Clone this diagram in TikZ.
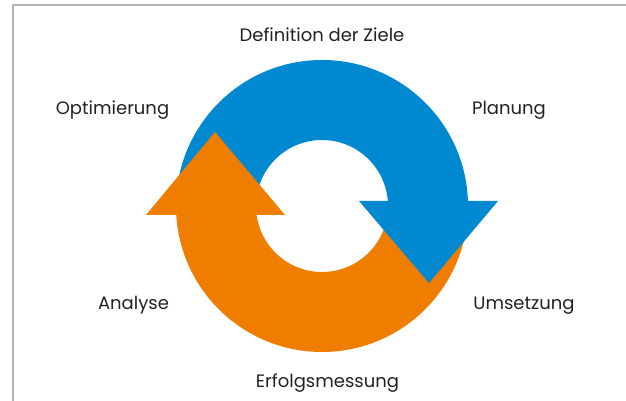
\documentclass[tikz,border=0pt]{standalone}
\usepackage{fontspec}
\setmainfont{Poppins}
\definecolor{cycblue}{HTML}{0089D0}
\definecolor{cycorange}{HTML}{EE7D00}
\definecolor{framegrey}{HTML}{B4B4B4}
\definecolor{labelgrey}{HTML}{222222}
\begin{document}
\begin{tikzpicture}[x=1pt,y=1pt,
  lbl/.style={anchor=base,inner sep=0pt,font=\fontsize{18}{21}\selectfont,text=labelgrey},
  frameline/.style={draw=framegrey,line width=1.2pt}]
\useasboundingbox (0,0) rectangle (626,401);
% frame
\coordinate (fbl) at (13,0);
\coordinate (ftl) at (13,396);
\coordinate (ftr) at (626,396);
\draw[frameline] (fbl) -- (ftl) -- (ftr);
% blue band (upper half)
\fill[cycblue] (176,195) arc[start angle=180,end angle=0,radius=146] -- (388,195) arc[start angle=0,end angle=180,radius=66] -- cycle;
% orange band (lower half)
\fill[cycorange] (176,195) arc[start angle=180,end angle=360,radius=146] -- (388,195) arc[start angle=360,end angle=180,radius=66] -- cycle;
% orange head
\fill[cycorange] (146,186) -- (285,186) -- (215,269) -- cycle;
% blue head
\fill[cycblue] (359,200) -- (498,200) -- (429,118) -- cycle;
% labels
\node[lbl] (ziele) at (322,359.3) {Definition der Ziele};
\node[lbl] (plan) at (509,286) {Planung};
\node[lbl] (opt) at (112.5,286) {Optimierung};
\node[lbl] (ana) at (133.5,91) {Analyse};
\node[lbl] (ums) at (524,91) {Umsetzung};
\node[lbl] (erf) at (327.5,13.3) {Erfolgsmessung};
\end{tikzpicture}
\end{document}
